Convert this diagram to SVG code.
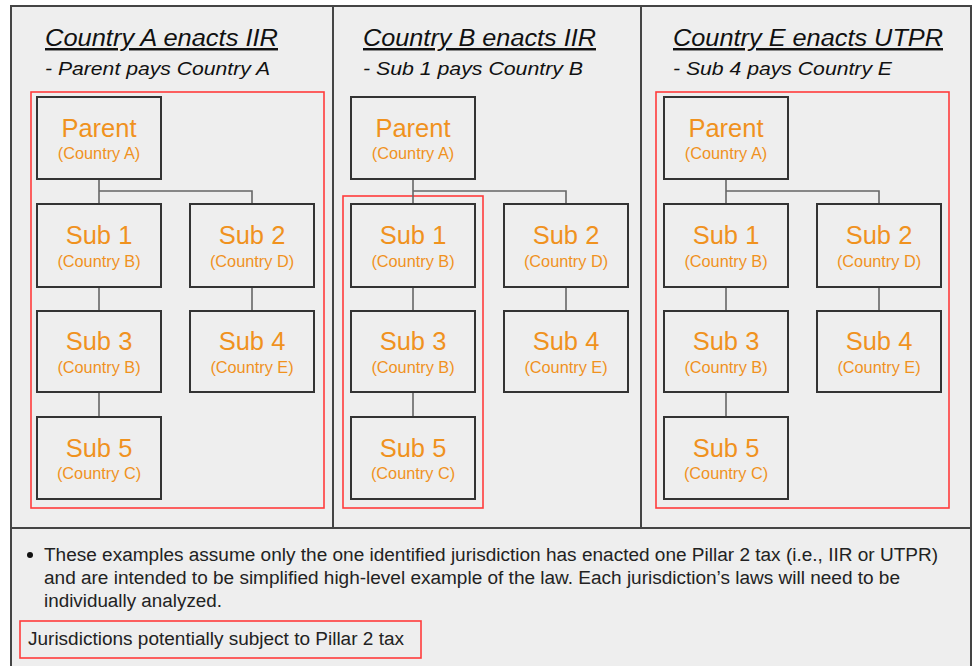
<svg xmlns="http://www.w3.org/2000/svg" width="972" height="666" viewBox="0 0 972 666">
<style>
.frame{fill:#eeeeee;stroke:#444;stroke-width:2}
.div{stroke:#444;stroke-width:2;fill:none}
.box{fill:#eeeeee;stroke:#333;stroke-width:2}
.red{fill:none;stroke:#ff3b3b;stroke-width:1.6}
.conn{stroke:#666;stroke-width:1.6;fill:none}
.t1{font-family:"Liberation Sans",Arial,sans-serif;font-size:25.5px;fill:#f0921e;text-anchor:middle}
.t2{font-family:"Liberation Sans",Arial,sans-serif;font-size:16.3px;fill:#f0921e;text-anchor:middle}
.h1{font-family:"Liberation Sans",Arial,sans-serif;font-size:24.5px;font-style:italic;fill:#111;text-decoration:underline}
.h2{font-family:"Liberation Sans",Arial,sans-serif;font-size:19px;font-style:italic;fill:#111}
.note{font-family:"Liberation Sans",Arial,sans-serif;font-size:18px;fill:#222}
</style>
<rect x="0" y="0" width="972" height="666" fill="#ffffff"/>
<rect class="frame" x="11" y="6" width="960" height="670"/>
<line class="div" x1="333" y1="6" x2="333" y2="528"/>
<line class="div" x1="641" y1="6" x2="641" y2="528"/>
<line class="div" x1="11" y1="528" x2="971" y2="528"/>

<g id="titles">
<text class="h1" x="45" y="46" textLength="233" lengthAdjust="spacingAndGlyphs">Country A enacts IIR</text>
<text class="h2" x="45" y="75" textLength="225" lengthAdjust="spacingAndGlyphs">- Parent pays Country A</text>
<text class="h1" x="363" y="46" textLength="233" lengthAdjust="spacingAndGlyphs">Country B enacts IIR</text>
<text class="h2" x="363" y="75" textLength="220" lengthAdjust="spacingAndGlyphs">- Sub 1 pays Country B</text>
<text class="h1" x="673" y="46" textLength="270" lengthAdjust="spacingAndGlyphs">Country E enacts UTPR</text>
<text class="h2" x="673" y="75" textLength="219" lengthAdjust="spacingAndGlyphs">- Sub 4 pays Country E</text>
</g>

<g id="highlights">
<rect class="red" x="31" y="92" width="293" height="416"/>
<rect class="red" x="343" y="196" width="140" height="312"/>
<rect class="red" x="656" y="92" width="293" height="416"/>
</g>

<g id="connectors">
<path class="conn" d="M99,179 V204 M99,191 H252 V204 M99,287 V311 M252,287 V311 M99,392 V417"/>
<path class="conn" d="M413,179 V204 M413,191 H566 V204 M413,287 V311 M566,287 V311 M413,392 V417"/>
<path class="conn" d="M726,179 V204 M726,191 H879 V204 M726,287 V311 M879,287 V311 M726,392 V417"/>
</g>

<g id="a-parent"><rect class="box" x="37" y="97" width="124" height="82"/><text class="t1" x="99" y="137">Parent</text><text class="t2" x="99" y="159">(Country A)</text></g>
<g id="a-sub1"><rect class="box" x="37" y="204" width="124" height="83"/><text class="t1" x="99" y="244">Sub 1</text><text class="t2" x="99" y="267">(Country B)</text></g>
<g id="a-sub2"><rect class="box" x="190" y="204" width="124" height="83"/><text class="t1" x="252" y="244">Sub 2</text><text class="t2" x="252" y="267">(Country D)</text></g>
<g id="a-sub3"><rect class="box" x="37" y="311" width="124" height="81"/><text class="t1" x="99" y="350">Sub 3</text><text class="t2" x="99" y="373">(Country B)</text></g>
<g id="a-sub4"><rect class="box" x="190" y="311" width="124" height="81"/><text class="t1" x="252" y="350">Sub 4</text><text class="t2" x="252" y="373">(Country E)</text></g>
<g id="a-sub5"><rect class="box" x="37" y="417" width="124" height="82"/><text class="t1" x="99" y="457">Sub 5</text><text class="t2" x="99" y="479">(Country C)</text></g>

<g id="b-parent"><rect class="box" x="351" y="97" width="124" height="82"/><text class="t1" x="413" y="137">Parent</text><text class="t2" x="413" y="159">(Country A)</text></g>
<g id="b-sub1"><rect class="box" x="351" y="204" width="124" height="83"/><text class="t1" x="413" y="244">Sub 1</text><text class="t2" x="413" y="267">(Country B)</text></g>
<g id="b-sub2"><rect class="box" x="504" y="204" width="124" height="83"/><text class="t1" x="566" y="244">Sub 2</text><text class="t2" x="566" y="267">(Country D)</text></g>
<g id="b-sub3"><rect class="box" x="351" y="311" width="124" height="81"/><text class="t1" x="413" y="350">Sub 3</text><text class="t2" x="413" y="373">(Country B)</text></g>
<g id="b-sub4"><rect class="box" x="504" y="311" width="124" height="81"/><text class="t1" x="566" y="350">Sub 4</text><text class="t2" x="566" y="373">(Country E)</text></g>
<g id="b-sub5"><rect class="box" x="351" y="417" width="124" height="82"/><text class="t1" x="413" y="457">Sub 5</text><text class="t2" x="413" y="479">(Country C)</text></g>

<g id="e-parent"><rect class="box" x="664" y="97" width="124" height="82"/><text class="t1" x="726" y="137">Parent</text><text class="t2" x="726" y="159">(Country A)</text></g>
<g id="e-sub1"><rect class="box" x="664" y="204" width="124" height="83"/><text class="t1" x="726" y="244">Sub 1</text><text class="t2" x="726" y="267">(Country B)</text></g>
<g id="e-sub2"><rect class="box" x="817" y="204" width="124" height="83"/><text class="t1" x="879" y="244">Sub 2</text><text class="t2" x="879" y="267">(Country D)</text></g>
<g id="e-sub3"><rect class="box" x="664" y="311" width="124" height="81"/><text class="t1" x="726" y="350">Sub 3</text><text class="t2" x="726" y="373">(Country B)</text></g>
<g id="e-sub4"><rect class="box" x="817" y="311" width="124" height="81"/><text class="t1" x="879" y="350">Sub 4</text><text class="t2" x="879" y="373">(Country E)</text></g>
<g id="e-sub5"><rect class="box" x="664" y="417" width="124" height="82"/><text class="t1" x="726" y="457">Sub 5</text><text class="t2" x="726" y="479">(Country C)</text></g>

<g id="notes">
<circle cx="30" cy="555" r="3" fill="#111"/>
<text class="note" x="44" y="561" textLength="894" lengthAdjust="spacingAndGlyphs">These examples assume only the one identified jurisdiction has enacted one Pillar 2 tax (i.e., IIR or UTPR)</text>
<text class="note" x="44" y="584" textLength="856" lengthAdjust="spacingAndGlyphs">and are intended to be simplified high-level example of the law. Each jurisdiction’s laws will need to be</text>
<text class="note" x="44" y="607" textLength="178" lengthAdjust="spacingAndGlyphs">individually analyzed.</text>
</g>
<g id="legend">
<rect class="red" x="20" y="621" width="401" height="37"/>
<text class="note" x="28" y="645" textLength="376" lengthAdjust="spacingAndGlyphs">Jurisdictions potentially subject to Pillar 2 tax</text>
</g>
</svg>
